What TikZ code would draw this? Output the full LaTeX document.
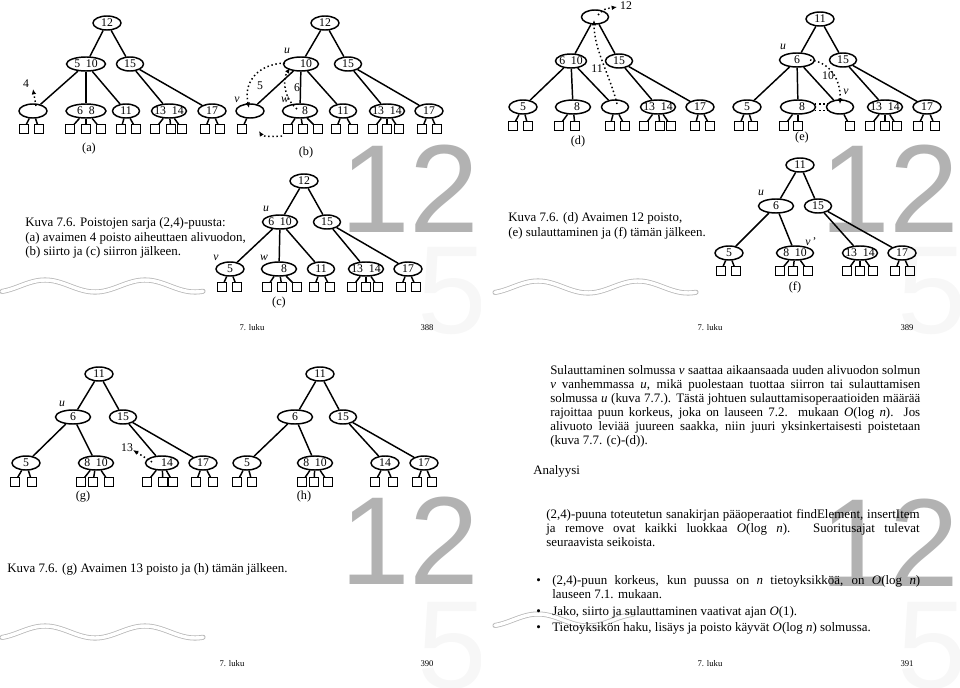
\documentclass[tikz,border=0pt]{standalone}
\usepackage{fontspec}
\setmainfont{Liberation Serif}
\newfontfamily\bigsans{Liberation Sans}
\usetikzlibrary{shapes.geometric,arrows.meta}
\newcommand\z[1]{\makebox[0pt]{#1}}
\newcommand\sqrow[3]{\foreach \xx [count=\i] in {#3} {\node[sq] (#1s\i) at (\xx,#2) {}; \draw[ed] (#1) -- (#1s\i);}}
\tikzset{
  tn/.style={ellipse, draw, line width=1.1pt, inner sep=0pt, minimum height=10.5pt, minimum width=21pt, font=\fontsize{8.8pt}{9pt}\selectfont},
  W/.style={minimum width=#1*0.75pt},
  sq/.style={draw, line width=0.9pt, minimum size=6.2pt, inner sep=0pt},
  ed/.style={line width=1.1pt},
  dt/.style={dotted, line width=1.1pt, -{Latex[length=4pt,width=3.5pt]}},
  dl/.style={dotted, line width=1.1pt},
  lb/.style={font=\fontsize{8.8pt}{9pt}\selectfont\itshape, inner sep=0pt},
  nl/.style={font=\fontsize{8.8pt}{9pt}\selectfont, inner sep=0pt},
  subl/.style={font=\fontsize{9.2pt}{9pt}\selectfont, inner sep=0pt},
  captx/.style={font=\fontsize{9.7pt}{11pt}\selectfont, inner sep=0pt, anchor=base west},
  ft/.style={font=\fontsize{6.5pt}{7pt}\selectfont, inner sep=0pt},
  bigtx/.style={font=\bigsans\fontsize{94pt}{94pt}\selectfont, text=black!30, inner sep=0pt, anchor=base},
  faint/.style={font=\bigsans\fontsize{94pt}{94pt}\selectfont, text=black!3, inner sep=0pt, anchor=base},
  wave/.style={draw=black!28, line width=0.6pt, double=white, double distance=2.6pt, line cap=round},
}
\begin{document}
\begin{tikzpicture}[x=0.75pt,y=-0.75pt]
\useasboundingbox (0,0) rectangle (960,688);
% ---------- background decorations ----------
\begin{scope}
\clip (0,0) rectangle (480,344);
\node[faint] (f5a) at (452,333) {5};
\end{scope}
\begin{scope}
\clip (480,0) rectangle (960,344);
\node[faint] (f5b) at (932,333) {5};
\end{scope}
\begin{scope}
\clip (0,344) rectangle (480,688);
\node[faint] (f5c) at (452,688) {5};
\end{scope}
\begin{scope}
\clip (480,344) rectangle (960,688);
\node[faint] (f5d) at (932,688) {5};
\end{scope}
\node[bigtx] (g12a) at (410,233) {12};
\node[bigtx] (g12b) at (890,233) {12};
\node[bigtx] (g12c) at (410,584) {12};
\node[bigtx] (g12d) at (890,586) {12};
\draw[wave] plot[domain=2:203, samples=80, smooth] (\x, {286 - 6*cos(3.6*(\x-45))});
\draw[wave] plot[domain=2:203, samples=80, smooth] (\x+493, {287 - 6*cos(3.6*(\x-45))});
\draw[wave] plot[domain=2:203, samples=80, smooth] (\x, {632 - 6*cos(3.6*(\x-45))});
\draw[wave] plot[domain=2:140, samples=60, smooth] (\x+493, {620 - 6*cos(3.6*(\x-45))});

% ---------- tree (a) ----------
\node[tn,W=28] (a0) at (107,23) {\z{12}};
\node[tn,W=39] (a1) at (86,64) {\z{5\enspace10}};
\node[tn,W=27] (a2) at (130,64) {\z{15}};
\node[tn,W=28] (a3) at (33,111) {};
\node[tn,W=40] (a4) at (86,111) {\z{6\enspace8}};
\node[tn,W=27] (a5) at (126,111) {\z{11}};
\node[tn,W=35] (a6) at (169,111) {\z{13\enspace14}};
\node[tn,W=28] (a7) at (212,111) {\z{17}};
\foreach \p/\c in {a0/a1,a0/a2,a1/a3,a1/a4,a1/a5,a2/a6,a2/a7} \draw[ed] (\p) -- (\c);
\sqrow{a3}{129}{24,39}
\sqrow{a4}{129}{70,86,101}
\sqrow{a5}{129}{121,136}
\sqrow{a6}{129}{155,171,182}
\sqrow{a7}{129}{205,220}
\node[nl] (a4l) at (26,84) {4};
\coordinate (a3p) at (36,106);
\coordinate (a3q) at (33,89);
\draw[dt] (a3p) -- (a3q);
\node[subl] (acap) at (89,149) {(a)};

% ---------- tree (b) ----------
\node[tn,W=28] (b0) at (325,23) {\z{12}};
\node[tn,W=35] (b1) at (301,64) {\z{\hspace*{7.5pt}10}};
\node[tn,W=27] (b2) at (348,64) {\z{15}};
\node[tn,W=28] (b3) at (250,111) {};
\node[tn,W=35] (b4) at (300,111) {\z{\hspace*{7.5pt}8}};
\node[tn,W=27] (b5) at (343,111) {\z{11}};
\node[tn,W=35] (b6) at (387,111) {\z{13\enspace14}};
\node[tn,W=28] (b7) at (429,111) {\z{17}};
\foreach \p/\c in {b0/b1,b0/b2,b1/b3,b1/b4,b1/b5,b2/b6,b2/b7} \draw[ed] (\p) -- (\c);
\sqrow{b3}{129}{242}
\sqrow{b4}{129}{288,303,318}
\sqrow{b5}{129}{336,353}
\sqrow{b6}{129}{373,387,399}
\sqrow{b7}{129}{422,437}
\node[lb] (bu) at (287,51) {u};
\node[lb] (bv) at (237,100) {v};
\node[lb] (bw) at (285,100) {w};
\node[nl] (b5l) at (260,86) {5};
\node[nl] (b6l) at (297,88) {6};
\coordinate (b1i) at (285,63);
\coordinate (b3i) at (249,108);
\draw[dt] (b1i) .. controls (260,64) and (243,80) .. (b3i);
\coordinate (b4i) at (297,109);
\coordinate (b1j) at (290,68);
\draw[dt] (b4i) .. controls (284,98) and (282,80) .. (b1j);
\coordinate (b4t) at (282,136);
\coordinate (b3t) at (259,131);
\draw[dt] (b4t) .. controls (268,137) and (262,136) .. (b3t);
\node[subl] (bcap) at (306,153) {(b)};

% ---------- tree (c) ----------
\node[tn,W=28] (c0) at (304,181) {\z{12}};
\node[tn,W=35] (c1) at (280,222) {\z{6\enspace10}};
\node[tn,W=27] (c2) at (327,222) {\z{15}};
\node[tn,W=28] (c3) at (230,269) {\z{5}};
\node[tn,W=35] (c4) at (279,269) {\z{\hspace*{7.5pt}8}};
\node[tn,W=27] (c5) at (321,269) {\z{11}};
\node[tn,W=35] (c6) at (366,269) {\z{13\enspace14}};
\node[tn,W=28] (c7) at (408,269) {\z{17}};
\foreach \p/\c in {c0/c1,c0/c2,c1/c3,c1/c4,c1/c5,c2/c6,c2/c7} \draw[ed] (\p) -- (\c);
\sqrow{c3}{287}{222,237}
\sqrow{c4}{287}{267,282,297}
\sqrow{c5}{287}{314,330}
\sqrow{c6}{287}{352,366,378}
\sqrow{c7}{287}{401,416}
\node[lb] (cu) at (266,209) {u};
\node[lb] (cv) at (216,258) {v};
\node[lb] (cw) at (264,258) {w};
\node[subl] (ccap) at (279,303) {(c)};

\node[captx] (k1a) at (25,226) {Kuva 7.6. Poistojen sarja (2,4)-puusta:};
\node[captx] (k1b) at (25,241) {(a) avaimen 4 poisto aiheuttaen alivuodon,};
\node[captx] (k1c) at (25,255) {(b) siirto ja (c) siirron jälkeen.};
\node[ft] (p1l) at (252,328) {7. luku};
\node[ft] (p1n) at (427,328) {388};

% ---------- tree (d) ----------
\node[tn,W=27] (d0) at (595,17) {};
\node[tn,W=31] (d1) at (571,61) {\z{6\enspace10}};
\node[tn,W=27] (d2) at (619,61) {\z{15}};
\node[tn,W=28] (d3) at (523,107) {\z{5}};
\node[tn,W=35] (d4) at (573,107) {\z{\hspace*{6pt}8}};
\node[tn,W=27] (d5) at (615,107) {};
\node[tn,W=35] (d6) at (658,107) {\z{13\enspace14}};
\node[tn,W=28] (d7) at (700,107) {\z{17}};
\foreach \p/\c in {d0/d1,d0/d2,d1/d3,d1/d4,d1/d5,d2/d6,d2/d7} \draw[ed] (\p) -- (\c);
\sqrow{d3}{126}{513,528}
\sqrow{d4}{126}{559,575}
\sqrow{d5}{126}{610,625}
\sqrow{d6}{126}{644,660,671}
\sqrow{d7}{126}{695,710}
\node[nl] (d12) at (626,6) {12};
\node[nl] (d11) at (597,69) {11};
\coordinate (d0i) at (598,15);
\coordinate (d0o) at (617,7);
\draw[dt] (d0i) .. controls (604,9) .. (d0o);
\coordinate (d5i) at (617,104);
\coordinate (d0j) at (594,20);
\draw[dt] (d5i) .. controls (610,75) and (594,50) .. (d0j);
\node[subl] (dcap) at (578,142) {(d)};

% ---------- tree (e) ----------
\node[tn,W=28] (e0) at (820,19) {\z{11}};
\node[tn,W=35] (e1) at (797,60) {\z{6}};
\node[tn,W=27] (e2) at (843,60) {\z{15}};
\node[tn,W=28] (e3) at (747,107) {\z{5}};
\node[tn,W=35] (e4) at (798,107) {\z{\hspace*{6pt}8}};
\node[tn,W=27] (e5) at (840,107) {};
\node[tn,W=35] (e6) at (885,107) {\z{13\enspace14}};
\node[tn,W=28] (e7) at (927,107) {\z{17}};
\foreach \p/\c in {e0/e1,e0/e2,e1/e3,e1/e4,e1/e5,e2/e6,e2/e7} \draw[ed] (\p) -- (\c);
\sqrow{e3}{126}{739,753}
\sqrow{e4}{126}{784,798}
\sqrow{e5}{126}{850}
\sqrow{e6}{126}{870,885,897}
\sqrow{e7}{126}{918,935}
\node[lb] (eu) at (783,47) {u};
\node[lb] (ev) at (846,92) {v};
\node[nl] (e10) at (828,76) {10};
\coordinate (e1i) at (810,60);
\coordinate (e5i) at (840,104);
\draw[dt] (e1i) .. controls (830,62) and (841,80) .. (e5i);
\coordinate (e4a) at (815,104);
\coordinate (e5a) at (828,104);
\coordinate (e4b) at (815,110.5);
\coordinate (e5b) at (828,110.5);
\draw[dl] (e4a) -- (e5a);
\draw[dl] (e4b) -- (e5b);
\node[subl] (ecap) at (802,138) {(e)};

% ---------- tree (f) ----------
\node[tn,W=28] (f0) at (800,165) {\z{11}};
\node[tn,W=35] (f1) at (776,206) {\z{6}};
\node[tn,W=27] (f2) at (818,206) {\z{15}};
\node[tn,W=28] (f3) at (729,253) {\z{5}};
\node[tn,W=37] (f4) at (795,253) {\z{8\enspace10}};
\node[tn,W=35] (f6) at (860,253) {\z{13\enspace14}};
\node[tn,W=28] (f7) at (902,253) {\z{17}};
\foreach \p/\c in {f0/f1,f0/f2,f1/f3,f1/f4,f2/f6,f2/f7} \draw[ed] (\p) -- (\c);
\sqrow{f3}{271}{721,736}
\sqrow{f4}{271}{780,793,808}
\sqrow{f6}{271}{847,860,873}
\sqrow{f7}{271}{895,910}
\node[lb] (fu) at (761,193) {u};
\node[lb] (fv) at (811,242) {v\,\upshape’};
\node[subl] (fcap) at (795,287) {(f)};

\node[captx] (k2a) at (508,221) {Kuva 7.6. (d) Avaimen 12 poisto,};
\node[captx] (k2b) at (508,236) {(e) sulauttaminen ja (f) tämän jälkeen.};
\node[ft] (p2l) at (710,328) {7. luku};
\node[ft] (p2n) at (907,328) {389};

% ---------- tree (g) ----------
\node[tn,W=28] (g0) at (99,374) {\z{11}};
\node[tn,W=35] (g1) at (73,417) {\z{6}};
\node[tn,W=27] (g2) at (123,417) {\z{15}};
\node[tn,W=28] (g3) at (26,463) {\z{5}};
\node[tn,W=35] (g4) at (96,463) {\z{8\enspace10}};
\node[tn,W=33] (g5) at (162,463) {\z{\hspace*{7.5pt}14}};
\node[tn,W=28] (g6) at (203,463) {\z{17}};
\foreach \p/\c in {g0/g1,g0/g2,g1/g3,g1/g4,g2/g5,g2/g6} \draw[ed] (\p) -- (\c);
\sqrow{g3}{482}{15,32}
\sqrow{g4}{482}{81,93,109}
\sqrow{g5}{482}{147,163,173}
\sqrow{g6}{482}{196,213}
\node[lb] (gu) at (62,404) {u};
\node[nl] (g13) at (127,448) {13};
\coordinate (g5i) at (152,462);
\coordinate (g5o) at (133,450);
\draw[dt] (g5i) -- (g5o);
\node[subl] (gcap) at (83,497) {(g)};

% ---------- tree (h) ----------
\node[tn,W=28] (h0) at (320,374) {\z{11}};
\node[tn,W=35] (h1) at (295,417) {\z{6}};
\node[tn,W=27] (h2) at (343,417) {\z{15}};
\node[tn,W=28] (h3) at (247,463) {\z{5}};
\node[tn,W=35] (h4) at (315,463) {\z{8\enspace10}};
\node[tn,W=28] (h5) at (385,463) {\z{14}};
\node[tn,W=28] (h6) at (424,463) {\z{17}};
\foreach \p/\c in {h0/h1,h0/h2,h1/h3,h1/h4,h2/h5,h2/h6} \draw[ed] (\p) -- (\c);
\sqrow{h3}{482}{237,252}
\sqrow{h4}{482}{302,314,328}
\sqrow{h5}{482}{375,393}
\sqrow{h6}{482}{417,432}
\node[subl] (hcap) at (304,497) {(h)};

\node[captx] (k3a) at (7,572) {Kuva 7.6. (g) Avaimen 13 poisto ja (h) tämän jälkeen.};
\node[ft] (p3l) at (232,664) {7. luku};
\node[ft] (p3n) at (427,664) {390};

% ---------- page 4 text ----------
\node[captx] (t1) at (550,374) {\makebox[277.5pt][s]{Sulauttaminen solmussa \textit{v} saattaa aikaansaada uuden alivuodon solmun}};
\node[captx] (t2) at (550,388) {\makebox[277.5pt][s]{\textit{v} vanhemmassa \textit{u}, mikä puolestaan tuottaa siirron tai sulauttamisen}};
\node[captx] (t3) at (550,402) {\makebox[277.5pt][s]{solmussa \textit{u} (kuva 7.7.). Tästä johtuen sulauttamisoperaatioiden määrää}};
\node[captx] (t4) at (550,416) {\makebox[277.5pt][s]{rajoittaa puun korkeus, joka on lauseen 7.2. mukaan \textit{O}(log \textit{n}). Jos}};
\node[captx] (t5) at (550,430) {\makebox[277.5pt][s]{alivuoto leviää juureen saakka, niin juuri yksinkertaisesti poistetaan}};
\node[captx] (t6) at (550,444) {(kuva 7.7. (c)-(d)).};
\node[captx] (an) at (533,474) {Analyysi};
\node[captx] (s1) at (546,518) {\makebox[280pt][s]{(2,4)-puuna toteutetun sanakirjan pääoperaatiot findElement, insertItem}};
\node[captx] (s2) at (546,532) {\makebox[280pt][s]{ja remove ovat kaikki luokkaa \textit{O}(log \textit{n}). Suoritusajat tulevat}};
\node[captx] (s3) at (546,546) {seuraavista seikoista.};
\node[captx] (bl1) at (536,584) {•};
\node[captx] (u1) at (552,584) {\makebox[276pt][s]{(2,4)-puun korkeus, kun puussa on \textit{n} tietoyksikköä, on \textit{O}(log \textit{n})}};
\node[captx] (u1b) at (552,598) {lauseen 7.1. mukaan.};
\node[captx] (bl2) at (536,615) {•};
\node[captx] (u2) at (552,615) {Jako, siirto ja sulauttaminen vaativat ajan \textit{O}(1).};
\node[captx] (bl3) at (536,631) {•};
\node[captx] (u3) at (552,631) {Tietoyksikön haku, lisäys ja poisto käyvät \textit{O}(log \textit{n}) solmussa.};
\node[ft] (p4l) at (710,664) {7. luku};
\node[ft] (p4n) at (907,664) {391};
\end{tikzpicture}
\end{document}
